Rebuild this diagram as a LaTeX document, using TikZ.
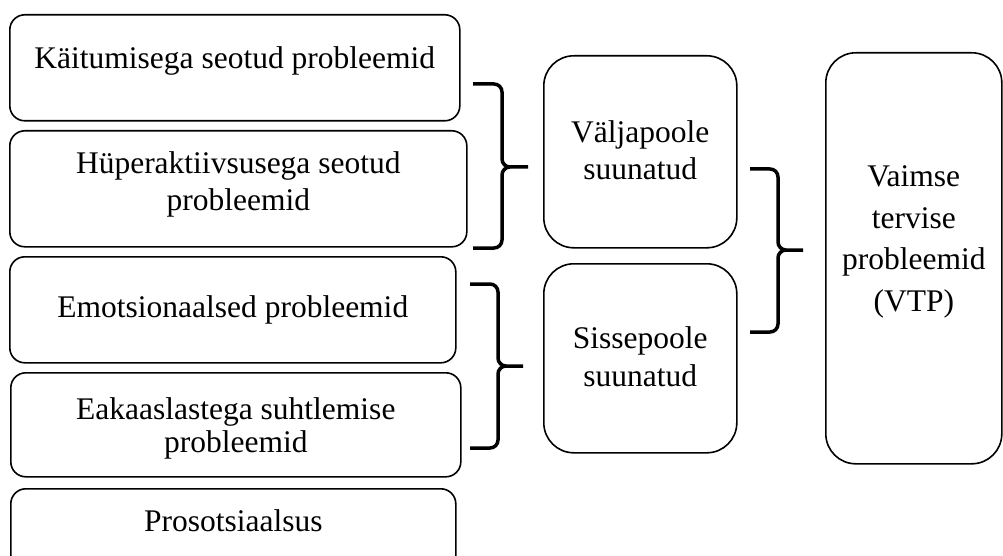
\documentclass[tikz,border=0pt]{standalone}
\usepackage{fontspec}
\setmainfont{Liberation Serif}

\newcommand{\boxfont}{\fontsize{31.5}{36}\selectfont}
% #1 left end, #2 stem, #3 top, #4 tip, #5 bottom, #6 tip end
\newcommand{\drawbrace}[6]{%
  \draw[bracket] (#1,#3) -- (#2,#3) -- (#2,#4) -- (#6,#4)
                 (#6,#4) -- (#2,#4) -- (#2,#5) -- (#1,#5);}

\begin{document}
\begin{tikzpicture}[x=1pt,y=-1pt,
  box/.style={draw,line width=1.6pt,rounded corners=15pt,anchor=north west,inner sep=0pt},
  bigbox/.style={box,rounded corners=30pt},
  txt/.style={font=\boxfont,align=center,anchor=base},
  bracket/.style={line width=3.5pt,rounded corners=8pt}]

\clip (0,0) rectangle (1003,556);

% left column
\node[box,minimum width=450pt,minimum height=106pt] (kb) at (9,14) {};
\node[box,minimum width=457pt,minimum height=116pt] (hb) at (9,130) {};
\node[box,minimum width=446pt,minimum height=106pt] (eb) at (9,256) {};
\node[box,minimum width=450pt,minimum height=104pt] (sb) at (10,372) {};
\node[box,minimum width=445pt,minimum height=100pt] (pb) at (10,488) {};

% (base = last line)
\node[txt] (kt) at (kb.north |- 0,69) {Käitumisega seotud probleemid};
\node[txt] (ht) at (hb.north |- 0,210) {Hüperaktiivsusega seotud\\probleemid};
\node[txt] (et) at (eb.north |- 0,317) {Emotsionaalsed probleemid};
\node[txt,font=\fontsize{31.5}{33}\selectfont] (st) at (sb.north |- 0,452)
  {Eakaaslastega suhtlemise\\probleemid};
\node[txt] (pt) at (pb.north |- 0,531) {Prosotsiaalsus};

% middle column
\node[bigbox,minimum width=193pt,minimum height=192pt] (vb) at (543,55) {};
\node[bigbox,minimum width=193pt,minimum height=189pt] (ib) at (543,263) {};

\node[txt] (vt) at (vb.north |- 0,179) {Väljapoole\\suunatud};
\node[txt,font=\fontsize{31.5}{38}\selectfont] (it) at (ib.north |- 0,386)
  {Sissepoole\\suunatud};

% right
\node[bigbox,minimum width=176pt,minimum height=411pt] (vtp) at (825,52) {};
\node[txt,font=\fontsize{31.5}{41.5}\selectfont] (vtpt) at (vtp.north |- 0,311)
  {Vaimse\\tervise\\probleemid\\(VTP)};

% braces
\drawbrace{473}{502}{84}{167}{248}{528}
\drawbrace{470}{498}{284}{366}{448}{523}
\drawbrace{750}{778}{169}{250}{332}{803}
\end{tikzpicture}
\end{document}
